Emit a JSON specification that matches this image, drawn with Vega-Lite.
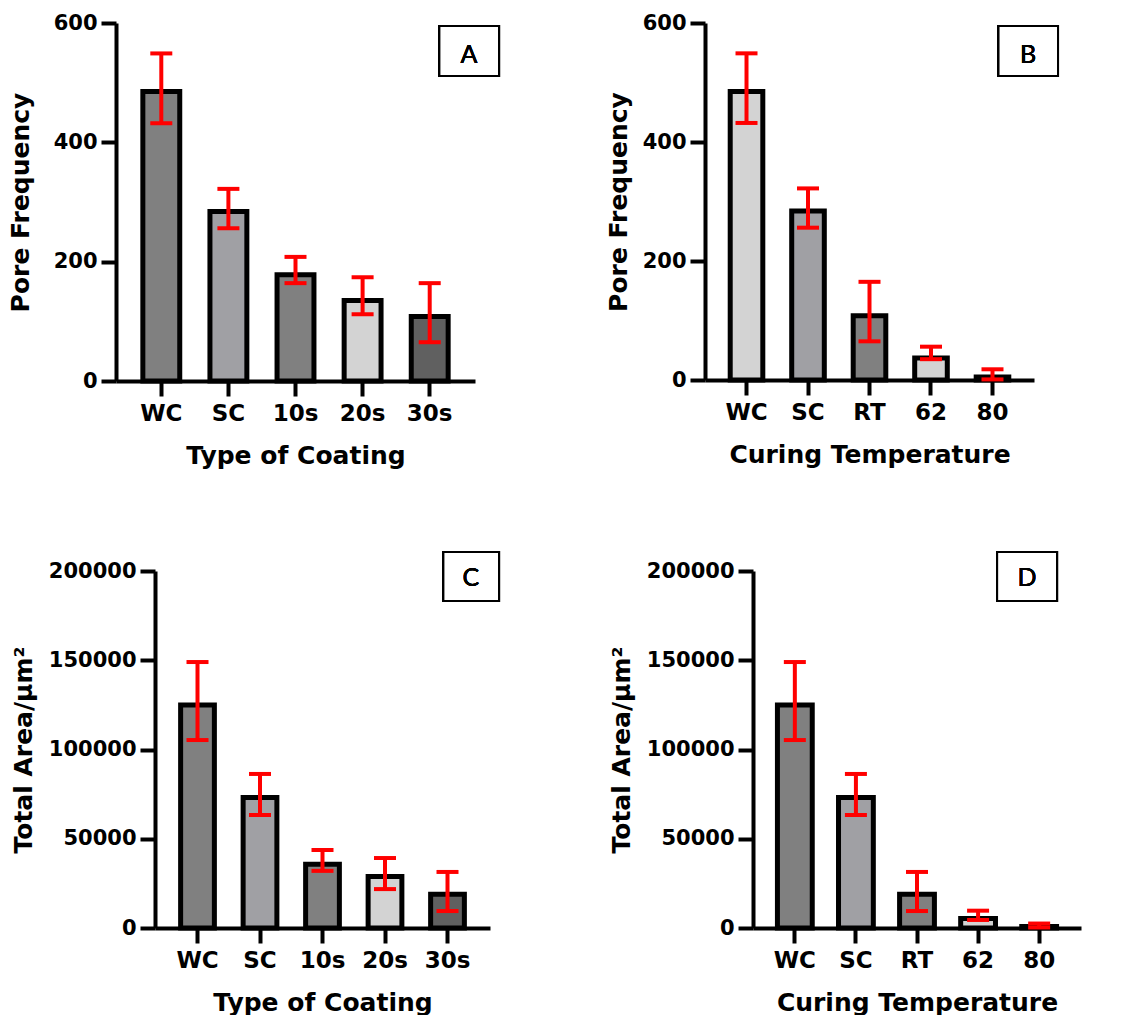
{
 "$schema": "https://vega.github.io/schema/vega-lite/v6.json",
 "padding": {"left": -98, "top": 12, "right": 5, "bottom": 0},
 "background": "white",
 "config": {
  "view": {"stroke": null},
  "axis": {"domainColor": "black", "domainWidth": 4, "tickColor": "black", "tickWidth": 4, "tickSize": 15, "labelFont": "DejaVu Sans", "labelFontWeight": "bold", "labelColor": "black", "titleFont": "DejaVu Sans", "titleFontWeight": "bold", "titleColor": "black", "titleFontSize": 25, "grid": false, "labelPadding": 4},
  "axisX": {"labelFontSize": 23, "labelAngle": 0, "labelPadding": 6, "titlePadding": 18},
  "axisY": {"labelFontSize": 21}
 },
 "spacing": 83,
 "resolve": {"scale": {"fill": "independent"}},
 "vconcat": [
  {"spacing": 105, "resolve": {"scale": {"fill": "independent"}}, "hconcat": [
   {"width": 1, "height": 1, "data": {"values": []}, "mark": "point"},
   {"width": 359, "height": 358,
    "data": {"values": [
     {"cat": "WC", "mean": 485, "lo": 432, "hi": 549},
     {"cat": "SC", "mean": 284, "lo": 256, "hi": 322},
     {"cat": "10s", "mean": 178, "lo": 164, "hi": 208},
     {"cat": "20s", "mean": 135, "lo": 112, "hi": 174},
     {"cat": "30s", "mean": 108, "lo": 65, "hi": 164}
    ]},
    "resolve": {"scale": {"x": "independent"}},
    "layer": [
     {"layer": [
      {"mark": {"type": "bar", "stroke": "black", "strokeWidth": 5},
       "encoding": {
        "x": {"field": "cat", "type": "nominal", "sort": null, "scale": {"paddingInner": 0.45, "paddingOuter": 0.4}, "axis": {"title": "Type of Coating"}},
        "y": {"field": "mean", "type": "quantitative", "scale": {"domain": [0, 600]}, "axis": {"title": "Pore Frequency", "values": [0, 200, 400, 600], "titlePadding": 20}},
        "fill": {"field": "cat", "type": "nominal", "scale": {"domain": ["WC", "SC", "10s", "20s", "30s"], "range": ["#808080", "#a0a0a4", "#808080", "#d3d3d3", "#606060"]}, "legend": null}
       }},
      {"mark": {"type": "rule", "color": "#ff0000", "strokeWidth": 4},
       "encoding": {"x": {"field": "cat", "type": "nominal", "sort": null}, "y": {"field": "lo", "type": "quantitative"}, "y2": {"field": "hi"}}},
      {"mark": {"type": "tick", "color": "#ff0000", "size": 22, "thickness": 4, "opacity": 1},
       "encoding": {"x": {"field": "cat", "type": "nominal", "sort": null}, "y": {"field": "lo", "type": "quantitative"}}},
      {"mark": {"type": "tick", "color": "#ff0000", "size": 22, "thickness": 4, "opacity": 1},
       "encoding": {"x": {"field": "cat", "type": "nominal", "sort": null}, "y": {"field": "hi", "type": "quantitative"}}}
     ]},
     {"layer": [
      {"mark": {"type": "rect", "fill": "transparent", "stroke": "black", "strokeWidth": 2},
       "encoding": {"x": {"datum": 0.9, "type": "quantitative", "scale": {"domain": [0, 1]}, "axis": null}, "x2": {"datum": 1.067}, "y": {"datum": 595, "type": "quantitative"}, "y2": {"datum": 511}}},
      {"mark": {"type": "text", "font": "Lato", "fontSize": 25, "fontWeight": "normal", "color": "black", "align": "center", "baseline": "middle"},
       "encoding": {"x": {"datum": 0.983, "type": "quantitative"}, "y": {"datum": 546, "type": "quantitative"}, "text": {"value": "A"}}}
     ]}
    ]},
   {"width": 329, "height": 357,
    "data": {"values": [
     {"cat": "WC", "mean": 485, "lo": 432, "hi": 549},
     {"cat": "SC", "mean": 284, "lo": 256, "hi": 322},
     {"cat": "RT", "mean": 108, "lo": 65, "hi": 165},
     {"cat": "62", "mean": 37, "lo": 35, "hi": 56},
     {"cat": "80", "mean": 5, "lo": 1, "hi": 18}
    ]},
    "resolve": {"scale": {"x": "independent"}},
    "layer": [
     {"layer": [
      {"mark": {"type": "bar", "stroke": "black", "strokeWidth": 5},
       "encoding": {
        "x": {"field": "cat", "type": "nominal", "sort": null, "scale": {"paddingInner": 0.47, "paddingOuter": 0.41}, "axis": {"title": "Curing Temperature"}},
        "y": {"field": "mean", "type": "quantitative", "scale": {"domain": [0, 600]}, "axis": {"title": "Pore Frequency", "values": [0, 200, 400, 600], "titlePadding": 11}},
        "fill": {"field": "cat", "type": "nominal", "scale": {"domain": ["WC", "SC", "RT", "62", "80"], "range": ["#d3d3d3", "#a0a0a4", "#808080", "#d3d3d3", "#606060"]}, "legend": null}
       }},
      {"mark": {"type": "rule", "color": "#ff0000", "strokeWidth": 4},
       "encoding": {"x": {"field": "cat", "type": "nominal", "sort": null}, "y": {"field": "lo", "type": "quantitative"}, "y2": {"field": "hi"}}},
      {"mark": {"type": "tick", "color": "#ff0000", "size": 22, "thickness": 4, "opacity": 1},
       "encoding": {"x": {"field": "cat", "type": "nominal", "sort": null}, "y": {"field": "lo", "type": "quantitative"}}},
      {"mark": {"type": "tick", "color": "#ff0000", "size": 22, "thickness": 4, "opacity": 1},
       "encoding": {"x": {"field": "cat", "type": "nominal", "sort": null}, "y": {"field": "hi", "type": "quantitative"}}}
     ]},
     {"layer": [
      {"mark": {"type": "rect", "fill": "transparent", "stroke": "black", "strokeWidth": 2},
       "encoding": {"x": {"datum": 0.891, "type": "quantitative", "scale": {"domain": [0, 1]}, "axis": null}, "x2": {"datum": 1.073}, "y": {"datum": 595, "type": "quantitative"}, "y2": {"datum": 511}}},
      {"mark": {"type": "text", "font": "Lato", "fontSize": 25, "fontWeight": "normal", "color": "black", "align": "center", "baseline": "middle"},
       "encoding": {"x": {"datum": 0.982, "type": "quantitative"}, "y": {"datum": 546, "type": "quantitative"}, "text": {"value": "B"}}}
     ]}
    ]}
  ]},
  {"spacing": 108, "resolve": {"scale": {"fill": "independent"}}, "hconcat": [
   {"width": 1, "height": 1, "data": {"values": []}, "mark": "point"},
   {"width": 335, "height": 357,
    "data": {"values": [
     {"cat": "WC", "mean": 125000, "lo": 105300, "hi": 149000},
     {"cat": "SC", "mean": 73100, "lo": 63300, "hi": 86300},
     {"cat": "10s", "mean": 35700, "lo": 32000, "hi": 43700},
     {"cat": "20s", "mean": 28900, "lo": 21800, "hi": 39200},
     {"cat": "30s", "mean": 18900, "lo": 9500, "hi": 31400}
    ]},
    "resolve": {"scale": {"x": "independent"}},
    "layer": [
     {"layer": [
      {"mark": {"type": "bar", "stroke": "black", "strokeWidth": 5},
       "encoding": {
        "x": {"field": "cat", "type": "nominal", "sort": null, "scale": {"paddingInner": 0.46, "paddingOuter": 0.41}, "axis": {"title": "Type of Coating"}},
        "y": {"field": "mean", "type": "quantitative", "scale": {"domain": [0, 200000]}, "axis": {"title": "Total Area/μm²", "values": [0, 50000, 100000, 150000, 200000], "format": "d", "titlePadding": 12}},
        "fill": {"field": "cat", "type": "nominal", "scale": {"domain": ["WC", "SC", "10s", "20s", "30s"], "range": ["#808080", "#a0a0a4", "#808080", "#d3d3d3", "#606060"]}, "legend": null}
       }},
      {"mark": {"type": "rule", "color": "#ff0000", "strokeWidth": 4},
       "encoding": {"x": {"field": "cat", "type": "nominal", "sort": null}, "y": {"field": "lo", "type": "quantitative"}, "y2": {"field": "hi"}}},
      {"mark": {"type": "tick", "color": "#ff0000", "size": 22, "thickness": 4, "opacity": 1},
       "encoding": {"x": {"field": "cat", "type": "nominal", "sort": null}, "y": {"field": "lo", "type": "quantitative"}}},
      {"mark": {"type": "tick", "color": "#ff0000", "size": 22, "thickness": 4, "opacity": 1},
       "encoding": {"x": {"field": "cat", "type": "nominal", "sort": null}, "y": {"field": "hi", "type": "quantitative"}}}
     ]},
     {"layer": [
      {"mark": {"type": "rect", "fill": "transparent", "stroke": "black", "strokeWidth": 2},
       "encoding": {"x": {"datum": 0.86, "type": "quantitative", "scale": {"domain": [0, 1]}, "axis": null}, "x2": {"datum": 1.027}, "y": {"datum": 210600, "type": "quantitative"}, "y2": {"datum": 183200}}},
      {"mark": {"type": "text", "font": "Lato", "fontSize": 25, "fontWeight": "normal", "color": "black", "align": "center", "baseline": "middle"},
       "encoding": {"x": {"datum": 0.943, "type": "quantitative"}, "y": {"datum": 196000, "type": "quantitative"}, "text": {"value": "C"}}}
     ]}
    ]},
   {"width": 328, "height": 357,
    "data": {"values": [
     {"cat": "WC", "mean": 125000, "lo": 105300, "hi": 149000},
     {"cat": "SC", "mean": 73100, "lo": 63300, "hi": 86300},
     {"cat": "RT", "mean": 18900, "lo": 9500, "hi": 31400},
     {"cat": "62", "mean": 5300, "lo": 4500, "hi": 9700},
     {"cat": "80", "mean": 900, "lo": 300, "hi": 2500}
    ]},
    "resolve": {"scale": {"x": "independent"}},
    "layer": [
     {"layer": [
      {"mark": {"type": "bar", "stroke": "black", "strokeWidth": 5},
       "encoding": {
        "x": {"field": "cat", "type": "nominal", "sort": null, "scale": {"paddingInner": 0.43, "paddingOuter": 0.4}, "axis": {"title": "Curing Temperature"}},
        "y": {"field": "mean", "type": "quantitative", "scale": {"domain": [0, 200000]}, "axis": {"title": "Total Area/μm²", "values": [0, 50000, 100000, 150000, 200000], "format": "d", "titlePadding": 12}},
        "fill": {"field": "cat", "type": "nominal", "scale": {"domain": ["WC", "SC", "RT", "62", "80"], "range": ["#808080", "#a0a0a4", "#808080", "#d3d3d3", "#606060"]}, "legend": null}
       }},
      {"mark": {"type": "rule", "color": "#ff0000", "strokeWidth": 4},
       "encoding": {"x": {"field": "cat", "type": "nominal", "sort": null}, "y": {"field": "lo", "type": "quantitative"}, "y2": {"field": "hi"}}},
      {"mark": {"type": "tick", "color": "#ff0000", "size": 22, "thickness": 4, "opacity": 1},
       "encoding": {"x": {"field": "cat", "type": "nominal", "sort": null}, "y": {"field": "lo", "type": "quantitative"}}},
      {"mark": {"type": "tick", "color": "#ff0000", "size": 22, "thickness": 4, "opacity": 1},
       "encoding": {"x": {"field": "cat", "type": "nominal", "sort": null}, "y": {"field": "hi", "type": "quantitative"}}}
     ]},
     {"layer": [
      {"mark": {"type": "rect", "fill": "transparent", "stroke": "black", "strokeWidth": 2},
       "encoding": {"x": {"datum": 0.744, "type": "quantitative", "scale": {"domain": [0, 1]}, "axis": null}, "x2": {"datum": 0.927}, "y": {"datum": 210600, "type": "quantitative"}, "y2": {"datum": 183200}}},
      {"mark": {"type": "text", "font": "Lato", "fontSize": 25, "fontWeight": "normal", "color": "black", "align": "center", "baseline": "middle"},
       "encoding": {"x": {"datum": 0.835, "type": "quantitative"}, "y": {"datum": 196000, "type": "quantitative"}, "text": {"value": "D"}}}
     ]}
    ]}
  ]}
 ]
}
